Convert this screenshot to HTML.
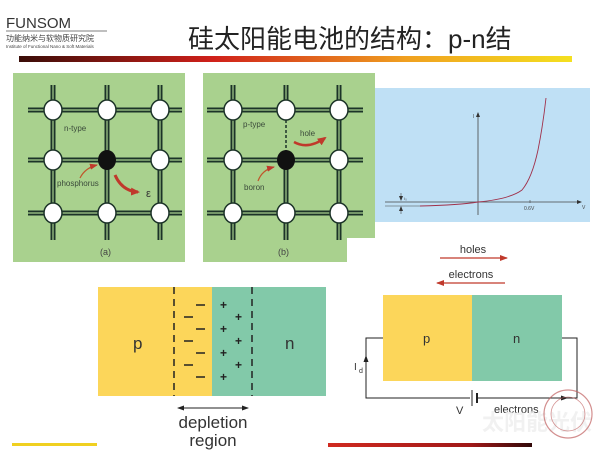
<!DOCTYPE html>
<html><head><meta charset="utf-8"><style>
html,body{margin:0;padding:0;background:#fff;width:600px;height:450px;overflow:hidden}
svg{display:block}
text{font-family:"Liberation Sans","Noto Sans CJK SC",sans-serif}
</style></head><body>
<svg width="600" height="450" viewBox="0 0 600 450" xmlns="http://www.w3.org/2000/svg">
<defs>
<linearGradient id="hg" x1="0" x2="1"><stop offset="0" stop-color="#3a0d08"/><stop offset="0.35" stop-color="#d0201a"/><stop offset="0.7" stop-color="#f0a020"/><stop offset="1" stop-color="#f4e020"/></linearGradient>
<linearGradient id="bg2" x1="0" x2="1"><stop offset="0" stop-color="#d02a20"/><stop offset="0.7" stop-color="#a01818"/><stop offset="1" stop-color="#300808"/></linearGradient>
<marker id="ar" markerUnits="userSpaceOnUse" markerWidth="8" markerHeight="6" refX="7" refY="3" orient="auto"><path d="M0,0 L8,3 L0,6z" fill="#c0392b"/></marker>
<marker id="arb" markerUnits="userSpaceOnUse" markerWidth="9" markerHeight="8" refX="7" refY="4" orient="auto"><path d="M0,0 L9,4 L0,8z" fill="#c0392b"/></marker>
<marker id="ak" markerUnits="userSpaceOnUse" markerWidth="7" markerHeight="5" refX="6" refY="2.5" orient="auto"><path d="M0,0 L7,2.5 L0,5z" fill="#222"/></marker>
<marker id="ak2" markerUnits="userSpaceOnUse" markerWidth="7" markerHeight="5" refX="1" refY="2.5" orient="auto"><path d="M7,0 L0,2.5 L7,5z" fill="#222"/></marker>
<marker id="as" markerUnits="userSpaceOnUse" markerWidth="5" markerHeight="4" refX="4" refY="2" orient="auto"><path d="M0,0 L5,2 L0,4z" fill="#333"/></marker>
</defs>
<!-- header -->
<text x="6" y="28" font-size="15" fill="#333">FUNSOM</text>
<line x1="6" y1="31" x2="107" y2="31" stroke="#555" stroke-width="0.8"/>
<text x="6" y="41" font-size="8" fill="#444">功能纳米与软物质研究院</text>
<text x="6" y="48" font-size="4.5" fill="#444">Institute of Functional Nano &amp; Soft Materials</text>
<text x="188" y="48" font-size="26" fill="#222">硅太阳能电池的结构：p-n结</text>
<rect x="19" y="56" width="553" height="6" fill="url(#hg)"/>
<!-- panel a -->
<rect x="13" y="73" width="172" height="189" fill="#a9d18e"/>
<g stroke="#1c3328" stroke-width="5">
<line x1="28" y1="110" x2="182" y2="110"/><line x1="28" y1="160" x2="182" y2="160"/><line x1="28" y1="213" x2="182" y2="213"/>
<line x1="53" y1="85" x2="53" y2="240"/><line x1="107" y1="85" x2="107" y2="240"/><line x1="160" y1="85" x2="160" y2="240"/>
</g>
<g stroke="#a9d18e" stroke-width="1.2">
<line x1="28" y1="110" x2="182" y2="110"/><line x1="28" y1="160" x2="182" y2="160"/><line x1="28" y1="213" x2="182" y2="213"/>
<line x1="53" y1="85" x2="53" y2="240"/><line x1="107" y1="85" x2="107" y2="240"/><line x1="160" y1="85" x2="160" y2="240"/>
</g>
<g fill="#fff" stroke="#1c3328" stroke-width="1.5">
<ellipse cx="53" cy="110" rx="9" ry="10"/><ellipse cx="107" cy="110" rx="9" ry="10"/><ellipse cx="160" cy="110" rx="9" ry="10"/>
<ellipse cx="53" cy="160" rx="9" ry="10"/><ellipse cx="160" cy="160" rx="9" ry="10"/>
<ellipse cx="53" cy="213" rx="9" ry="10"/><ellipse cx="107" cy="213" rx="9" ry="10"/><ellipse cx="160" cy="213" rx="9" ry="10"/>
</g>
<ellipse cx="107" cy="160" rx="9" ry="10" fill="#111"/>
<text x="64" y="131" font-size="8" fill="#3a4a3a">n-type</text>
<text x="57" y="186" font-size="8" fill="#3a4a3a">phosphorus</text>
<path d="M80 178 Q85 168 97 165" stroke="#c0562b" stroke-width="1.2" fill="none" marker-end="url(#ar)"/>
<path d="M115 175 Q122 191 138 192" stroke="#c0392b" stroke-width="3" fill="none" marker-end="url(#arb)"/>
<text x="146" y="197" font-size="11" fill="#333">ε</text>
<text x="100" y="255" font-size="9" fill="#444">(a)</text>
<!-- panel b -->
<path d="M203 73 H375 V238 H347 V262 H203Z" fill="#a9d18e"/>
<g stroke="#1c3328" stroke-width="5">
<line x1="207" y1="110" x2="363" y2="110"/><line x1="207" y1="160" x2="363" y2="160"/><line x1="207" y1="213" x2="363" y2="213"/>
<line x1="233" y1="85" x2="233" y2="240"/><line x1="286" y1="85" x2="286" y2="110"/><line x1="286" y1="160" x2="286" y2="240"/><line x1="339" y1="85" x2="339" y2="240"/>
</g>
<g stroke="#a9d18e" stroke-width="1.2">
<line x1="207" y1="110" x2="363" y2="110"/><line x1="207" y1="160" x2="363" y2="160"/><line x1="207" y1="213" x2="363" y2="213"/>
<line x1="233" y1="85" x2="233" y2="240"/><line x1="286" y1="85" x2="286" y2="110"/><line x1="286" y1="160" x2="286" y2="240"/><line x1="339" y1="85" x2="339" y2="240"/>
</g>
<line x1="286" y1="110" x2="286" y2="160" stroke="#1c3328" stroke-width="1.5" stroke-dasharray="3,2"/>
<g fill="#fff" stroke="#1c3328" stroke-width="1.5">
<ellipse cx="233" cy="110" rx="9" ry="10"/><ellipse cx="286" cy="110" rx="9" ry="10"/><ellipse cx="339" cy="110" rx="9" ry="10"/>
<ellipse cx="233" cy="160" rx="9" ry="10"/><ellipse cx="339" cy="160" rx="9" ry="10"/>
<ellipse cx="233" cy="213" rx="9" ry="10"/><ellipse cx="286" cy="213" rx="9" ry="10"/><ellipse cx="339" cy="213" rx="9" ry="10"/>
</g>
<ellipse cx="286" cy="160" rx="9" ry="10" fill="#111"/>
<text x="243" y="127" font-size="8" fill="#3a4a3a">p-type</text>
<text x="300" y="136" font-size="8" fill="#3a4a3a">hole</text>
<path d="M294 142 Q308 150 325 138" stroke="#c0392b" stroke-width="2.5" fill="none" marker-end="url(#arb)"/>
<text x="244" y="190" font-size="8" fill="#3a4a3a">boron</text>
<path d="M258 181 Q262 170 274 167" stroke="#c0562b" stroke-width="1.2" fill="none" marker-end="url(#ar)"/>
<text x="278" y="255" font-size="9" fill="#444">(b)</text>
<!-- blue plot -->
<rect x="375" y="88" width="215" height="134" fill="#bfe0f5"/>
<line x1="478" y1="215" x2="478" y2="113" stroke="#444" stroke-width="0.8" marker-end="url(#as)"/>
<line x1="385" y1="202" x2="581" y2="202" stroke="#444" stroke-width="0.8" marker-end="url(#as)"/>
<text x="473" y="118" font-size="5" fill="#444">I</text>
<text x="582" y="209" font-size="5" fill="#444">V</text>
<text x="524" y="210" font-size="5" fill="#444">0.6V</text>
<line x1="530" y1="200" x2="530" y2="203" stroke="#444" stroke-width="0.6"/>
<line x1="401" y1="193" x2="401" y2="200" stroke="#444" stroke-width="0.6" marker-end="url(#as)"/>
<line x1="401" y1="214" x2="401" y2="207" stroke="#444" stroke-width="0.6" marker-end="url(#as)"/>
<text x="404" y="200" font-size="4" fill="#444">I₀</text>
<line x1="385" y1="206" x2="420" y2="206" stroke="#444" stroke-width="0.6"/>
<path d="M420 206 Q460 205 478 202 Q510 199 522 190 Q532 178 538 150 Q543 125 546 98" stroke="#a0304a" stroke-width="0.9" fill="none"/>
<!-- depletion diagram -->
<rect x="98" y="287" width="114" height="109" fill="#fcd65a"/>
<rect x="212" y="287" width="114" height="109" fill="#82c9a9"/>
<line x1="174" y1="287" x2="174" y2="396" stroke="#222" stroke-width="1.5" stroke-dasharray="7,5"/>
<line x1="252" y1="287" x2="252" y2="396" stroke="#222" stroke-width="1.5" stroke-dasharray="7,5"/>
<text x="133" y="349" font-size="17" fill="#333">p</text>
<text x="285" y="349" font-size="17" fill="#333">n</text>
<g stroke="#222" stroke-width="1.5">
<line x1="196" y1="305" x2="205" y2="305"/><line x1="184" y1="317" x2="193" y2="317"/><line x1="196" y1="329" x2="205" y2="329"/>
<line x1="184" y1="341" x2="193" y2="341"/><line x1="196" y1="353" x2="205" y2="353"/><line x1="184" y1="365" x2="193" y2="365"/><line x1="196" y1="377" x2="205" y2="377"/>
</g>
<g font-size="12" font-weight="bold" fill="#222">
<text x="220" y="309">+</text><text x="235" y="321">+</text><text x="220" y="333">+</text><text x="235" y="345">+</text><text x="220" y="357">+</text><text x="235" y="369">+</text><text x="220" y="381">+</text>
</g>
<line x1="178" y1="408" x2="248" y2="408" stroke="#222" stroke-width="1" marker-end="url(#ak)" marker-start="url(#ak2)"/>
<text x="213" y="428" font-size="17" fill="#333" text-anchor="middle">depletion</text>
<text x="213" y="446" font-size="17" fill="#333" text-anchor="middle">region</text>
<!-- right circuit -->
<text x="473" y="253" font-size="11" fill="#333" text-anchor="middle">holes</text>
<line x1="440" y1="258" x2="507" y2="258" stroke="#c0392b" stroke-width="1.2" marker-end="url(#ar)"/>
<text x="471" y="278" font-size="11" fill="#333" text-anchor="middle">electrons</text>
<line x1="505" y1="283" x2="437" y2="283" stroke="#c0392b" stroke-width="1.2" marker-end="url(#ar)"/>
<rect x="383" y="295" width="89" height="86" fill="#fcd65a"/>
<rect x="472" y="295" width="90" height="86" fill="#82c9a9"/>
<text x="423" y="343" font-size="13" fill="#333">p</text>
<text x="513" y="343" font-size="13" fill="#333">n</text>
<path d="M383 338 H366 V398 H470 M478 398 H577 V338 H562" stroke="#222" stroke-width="1" fill="none"/>
<line x1="366" y1="372" x2="366" y2="356" stroke="#222" stroke-width="1" marker-end="url(#ak)"/>
<text x="354" y="370" font-size="10" fill="#333">I</text><text x="359" y="373" font-size="7" fill="#333">d</text>
<line x1="472" y1="390" x2="472" y2="406" stroke="#222" stroke-width="1"/>
<line x1="477" y1="393" x2="477" y2="403" stroke="#222" stroke-width="2"/>
<line x1="520" y1="398" x2="567" y2="398" stroke="#222" stroke-width="1" marker-end="url(#ak)"/>
<text x="456" y="414" font-size="11" fill="#333">V</text>
<text x="494" y="413" font-size="11" fill="#333">electrons</text>
<text x="482" y="430" font-size="22" font-weight="bold" fill="#eee" opacity="0.8">太阳能光伏</text>
<circle cx="568" cy="414" r="24" fill="none" stroke="#c06060" stroke-width="1.2" opacity="0.7"/>
<circle cx="568" cy="414" r="17" fill="none" stroke="#c06060" stroke-width="0.8" opacity="0.7"/>
<rect x="12" y="443" width="85" height="3" fill="#f0d020"/>
<rect x="328" y="443" width="204" height="4" fill="url(#bg2)"/>
</svg>
</body></html>
